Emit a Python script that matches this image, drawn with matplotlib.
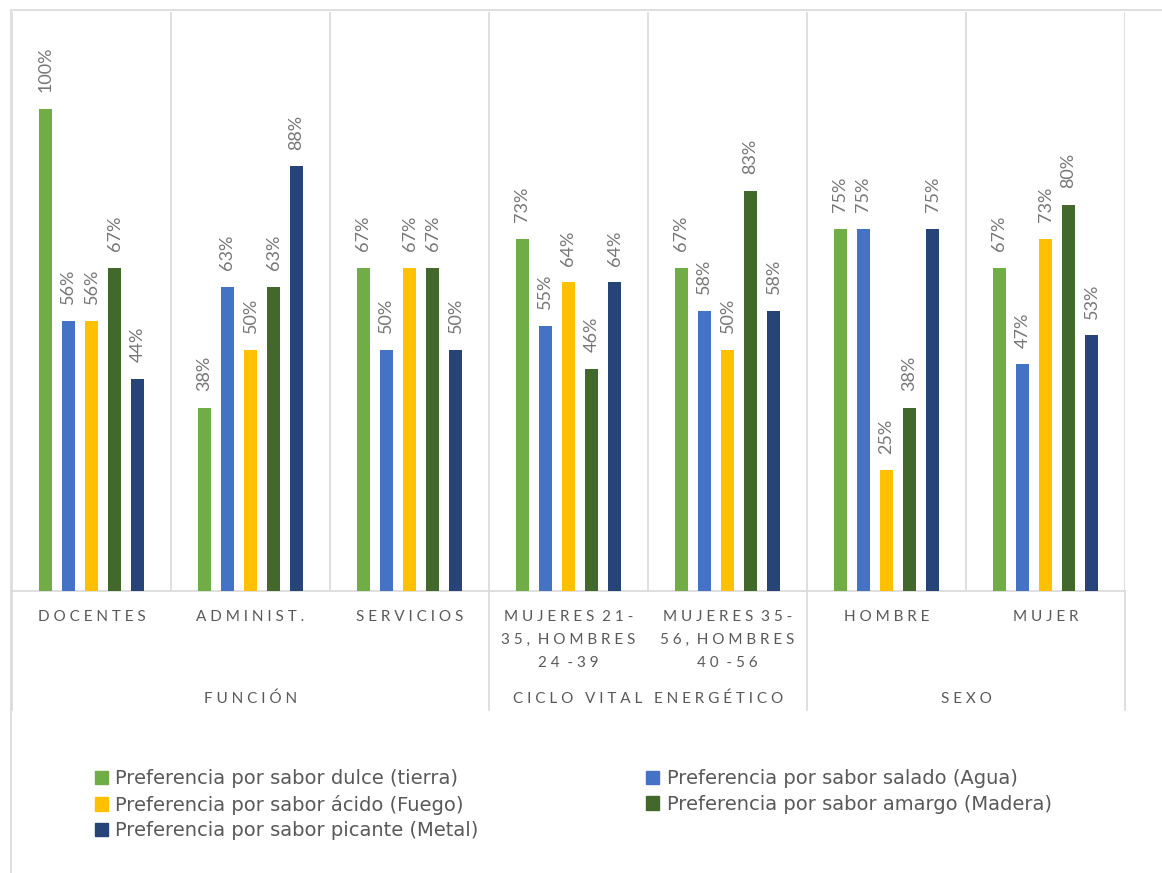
import numpy as np
import matplotlib.pyplot as plt
from matplotlib.patches import Patch, Rectangle
from matplotlib.lines import Line2D
import matplotlib.transforms as mtransforms

plt.rcParams['font.family'] = ['Lato', 'DejaVu Sans']

categories = ["DOCENTES", "ADMINIST.", "SERVICIOS",
              "MUJERES 21-\n35, HOMBRES\n24 -39",
              "MUJERES 35-\n56, HOMBRES\n40 -56",
              "HOMBRE", "MUJER"]
groups = ["FUNCIÓN", "CICLO VITAL ENERGÉTICO", "SEXO"]
group_edges = [-0.5, 2.5, 4.5, 6.5]

series = ["Preferencia por sabor dulce (tierra)",
          "Preferencia por sabor salado (Agua)",
          "Preferencia por sabor ácido (Fuego)",
          "Preferencia por sabor amargo (Madera)",
          "Preferencia por sabor picante (Metal)"]
dulce   = [100, 38, 67, 73, 67, 75, 67]
salado  = [56, 63, 50, 55, 58, 75, 47]
acido   = [56, 50, 67, 64, 50, 25, 73]
amargo  = [67, 63, 67, 46, 83, 38, 80]
picante = [44, 88, 50, 64, 58, 75, 53]
values = [dulce, salado, acido, amargo, picante]
colors = ['#70AD47', '#4472C4', '#FFC000', '#43682B', '#264478']

grid_c = '#d9d9d9'
lab_c = '#595959'


def spaced(txt, gap=3):
    # letter-spaced category text
    out = []
    for line in txt.split('\n'):
        out.append((' ' * gap).join(' '.join(w) for w in line.split(' ')))
    return '\n'.join(out)


W, H = 1162, 873
fig = plt.figure(figsize=(W / 100, H / 100), dpi=100)
fig.add_artist(Rectangle((11 / W, -0.1), 1.2, 1 - 10 / H + 0.1,
                         transform=fig.transFigure, fill=False,
                         ec=grid_c, lw=1.2))
ax = fig.add_axes([12 / W, 1 - 591 / H, 1113 / W, 579 / H])

x = np.arange(len(categories))
step, bw = 0.145, 0.078
for i, (vals, col) in enumerate(zip(values, colors)):
    pos = x + (i - 2) * step
    v = np.array(vals) / 100
    ax.bar(pos, v, width=bw, color=col, zorder=3)
    for px, py, t in zip(pos, v, vals):
        ax.annotate(f"{t}%", (px, py), xytext=(0, 12), textcoords='offset points',
                    rotation=90, ha='center', va='bottom', fontsize=13,
                    color='#767676')

ax.set_xlim(-0.5, 6.5)
ax.set_ylim(0, 1.2)
ax.set_yticks([])
ax.set_xticks(x, [spaced(c, 2) for c in categories], fontsize=11,
              color=lab_c, linespacing=1.85, va='top')
ax.tick_params(axis='x', length=0, pad=13.5)
ax.set_xticks(np.arange(-0.5, 7), minor=True)
ax.tick_params(axis='x', which='minor', length=0)
ax.grid(axis='x', which='minor', color=grid_c, lw=1.2, zorder=0)
for s in ['top', 'left', 'right']:
    ax.spines[s].set_visible(False)
ax.spines['bottom'].set_color(grid_c)
ax.spines['bottom'].set_linewidth(1.2)

# group separators and group names under the axis
tr = mtransforms.blended_transform_factory(ax.transData, ax.transAxes)
for e in group_edges:
    ax.add_line(Line2D([e, e], [0, -119 / 579], transform=tr, color=grid_c,
                       lw=1.2, clip_on=False))
for g, a, b in zip(groups, group_edges[:-1], group_edges[1:]):
    ax.text((a + b) / 2, -108 / 579, spaced(g), transform=tr, ha='center',
            va='center', fontsize=11, color=lab_c)

# legend filled column-wise, so order entries to read row by row
order = [0, 2, 4, 1, 3]
handles = [Patch(color=colors[k]) for k in order]
labels = [series[k] for k in order]
fig.legend(handles, labels, loc='upper left',
           bbox_to_anchor=(77 / W, 1 - 752 / H), ncol=2, frameon=False,
           prop={'family': 'DejaVu Sans', 'size': 14}, labelcolor=lab_c,
           handlelength=0.67, handleheight=0.67, handletextpad=0.4,
           labelspacing=0.32, columnspacing=8.6)

fig.savefig('out.png', dpi=100)
